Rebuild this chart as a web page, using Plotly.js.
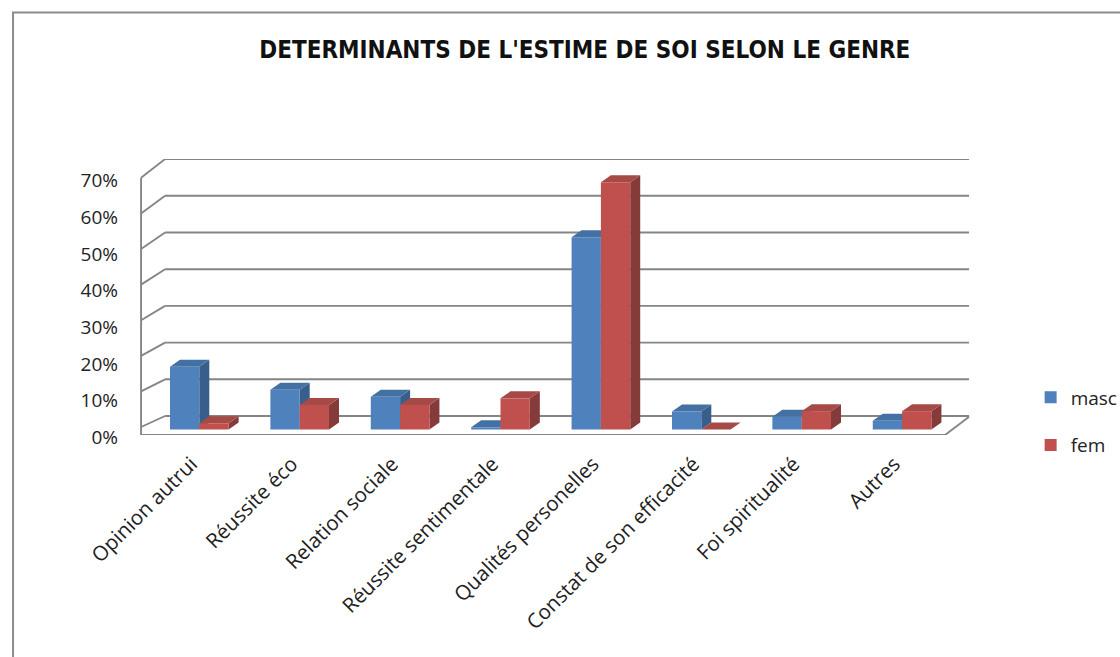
<!DOCTYPE html>
<html>
<head>
<meta charset="utf-8">
<script src="https://cdn.plot.ly/plotly-3.0.1.min.js"></script>
<style>
html,body{margin:0;padding:0;background:#fff;}
#chart{width:1120px;height:657px;}
</style>
</head>
<body>
<div id="chart"></div>
<script>
// ---- data ----
const categories = ["Opinion autrui", "Réussite éco", "Relation sociale", "Réussite sentimentale",
  "Qualités personelles", "Constat de son efficacité", "Foi spiritualité", "Autres"];
const masc = [0.171, 0.108, 0.089, 0.006, 0.524, 0.049, 0.035, 0.024];
const fem  = [0.017, 0.067, 0.067, 0.085, 0.674, 0.000, 0.050, 0.050];
const seriesNames = ["masc", "fem"];
const yTickVals = [0, 0.1, 0.2, 0.3, 0.4, 0.5, 0.6, 0.7];

// ---- styling / geometry ----
const colors = {
  masc: {front: "#4F81BD", top: "#4471A3", side: "#385F8B"},
  fem:  {front: "#C0504D", top: "#A64A47", side: "#843B39"}
};
const W = 0.292;      // bar width (category units)
const DX = 0.0996;    // bar depth offset, x
const DY = 0.0191;    // bar depth offset, y
const gridColor = "#858585";
const FONT = "'Open Sans', 'Noto Sans', sans-serif";

const idx = categories.map((_, i) => i);

function poly(pts, color) {
  return {
    type: "path", xref: "x", yref: "y", layer: "below",
    path: "M" + pts.map(p => p[0] + "," + p[1]).join("L") + "Z",
    fillcolor: color, line: {width: 0}
  };
}
function seg(x0, y0, x1, y1, w) {
  return {type: "line", xref: "x", yref: "y", layer: "below",
    x0: x0, y0: y0, x1: x1, y1: y1, line: {color: gridColor, width: w || 1.9}};
}

const shapes = [];
// 3D frame: back wall gridlines, left diagonals, floor
const xFrontL = -0.580, xBackL = -0.341, xBackR = 7.667, xFrontR = 7.428;
const yFloorFront = -0.015, backOff = 0.0368;
yTickVals.forEach(t => {
  const yf = 0.0068 + t * 0.970;
  shapes.push(seg(xFrontL, yf, xBackL, t + backOff));
  shapes.push(seg(xBackL, t + backOff, xBackR, t + backOff));
});
shapes.push(seg(xFrontL, yFloorFront, xFrontL, 0.0068 + 0.7 * 0.970));
shapes.push(seg(xFrontL, yFloorFront, xFrontR, yFloorFront));
shapes.push(seg(xFrontR, yFloorFront, xBackR, backOff - 0.002));

// 3D faces (top and side) of each bar, computed from the data
function addFaces(vals, offset, c) {
  vals.forEach((v, i) => {
    const xl = i + offset, xr = xl + W;
    shapes.push(poly([[xr, 0], [xr, v], [xr + DX, v + DY], [xr + DX, DY]], c.side));
    shapes.push(poly([[xl, v], [xr, v], [xr + DX, v + DY], [xl + DX, v + DY]], c.top));
  });
}
addFaces(masc, -W, colors.masc);
addFaces(fem, 0, colors.fem);

// outer chart border
shapes.push({type: "rect", xref: "paper", yref: "paper", layer: "above",
  x0: -0.1503, x1: 1.25, y0: -0.9, y1: 1.531,
  line: {color: "#8C8C8C", width: 2}, fillcolor: "rgba(0,0,0,0)"});

const traces = [
  {type: "bar", name: seriesNames[0], x: idx, y: masc, offset: -W, width: W,
   marker: {color: colors.masc.front, line: {width: 0}}, legendgroup: "a", hoverinfo: "skip"},
  {type: "bar", name: seriesNames[1], x: idx, y: fem, offset: 0, width: W,
   marker: {color: colors.fem.front, line: {width: 0}}, legendgroup: "b", hoverinfo: "skip"}
];

// axis geometry
const L = 139, R = 143, T = 159, B = 222;
const pxPerX = 100.4, x0px = 199.3;
const pxPerY = 367, y0px = 429.5;
const xRange = [(L - x0px) / pxPerX, (1120 - R - x0px) / pxPerX];
const yRange = [(y0px - (657 - B)) / pxPerY, (y0px - T) / pxPerY];

const layout = {
  width: 1120, height: 657,
  margin: {l: L, r: R, t: T, b: B, pad: 0, autoexpand: false},
  paper_bgcolor: "#FFFFFF", plot_bgcolor: "rgba(0,0,0,0)",
  font: {family: FONT, size: 19, color: "#222"},
  title: {text: "<b>DETERMINANTS DE L'ESTIME DE SOI SELON LE GENRE</b>",
    font: {family: "'Liberation Sans Narrow', 'DejaVu Sans Condensed', sans-serif", size: 24, color: "#111"},
    x: 0.532, xref: "paper", xanchor: "center", y: 0.924, yref: "container", yanchor: "middle"},
  barmode: "overlay",
  showlegend: true,
  legend: {x: 1.064, xanchor: "left", y: 0.205, yanchor: "top",
    font: {family: FONT, size: 19, color: "#222"}, tracegroupgap: 20,
    bgcolor: "rgba(0,0,0,0)"},
  xaxis: {type: "linear", range: xRange, tickvals: idx, ticktext: categories,
    tickangle: -45, showgrid: false, zeroline: false, showline: false, ticks: "",
    tickfont: {family: FONT, size: 20.5, color: "#222"}, ticklabelstandoff: 12, ticklabelshift: -8,
    fixedrange: true, automargin: false},
  yaxis: {range: yRange, tickvals: yTickVals, tickformat: ".0%", showgrid: false,
    zeroline: false, showline: false, ticks: "", ticklabelstandoff: 20, ticklabelshift: 8,
    tickfont: {family: FONT, size: 19, color: "#222"}, fixedrange: true, automargin: false},
  shapes: shapes,
  hovermode: false
};

Plotly.newPlot("chart", traces, layout, {displayModeBar: false, staticPlot: true});
</script>
</body>
</html>
